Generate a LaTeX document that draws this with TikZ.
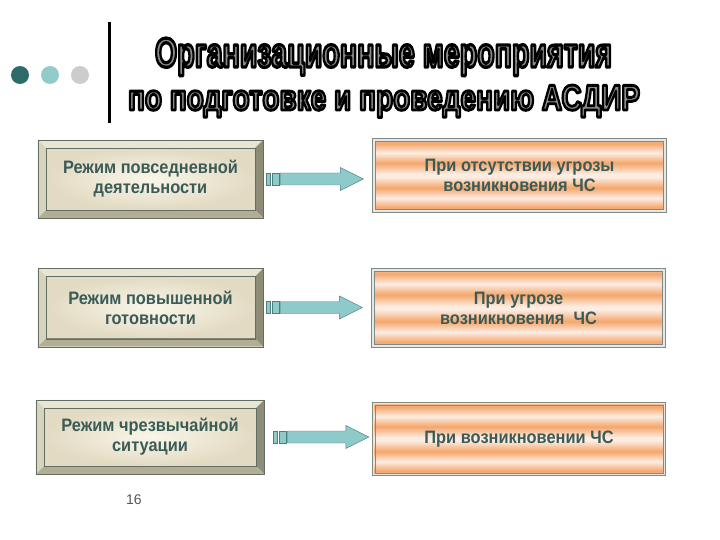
\documentclass[tikz,border=0pt]{standalone}
\usepackage{fontspec}
\setmainfont{Liberation Sans}
\newfontfamily\boxfont{Liberation Sans}[FakeStretch=0.91]
\usetikzlibrary{calc}

\definecolor{dotdark}{HTML}{2E6B6B}
\definecolor{dotlight}{HTML}{93CBCB}
\definecolor{dotgray}{HTML}{CCCCCC}
\definecolor{textcol}{HTML}{3B5B57}
\definecolor{facein}{HTML}{F9F6EA}
\definecolor{faceout}{HTML}{E2DAC2}
\definecolor{beveltop}{HTML}{E9E5D2}
\definecolor{bevelleft}{HTML}{D9D3BC}
\definecolor{bevelright}{HTML}{8E8B76}
\definecolor{bevelbottom}{HTML}{B3AD94}
\definecolor{bevelline}{HTML}{5F6F66}
\definecolor{arrowfill}{HTML}{8FCACA}
\definecolor{arrowline}{HTML}{4D7F7D}
\definecolor{stripeorange}{HTML}{F5A66C}
\definecolor{stripelight}{HTML}{FCEDE3}
\definecolor{stripemid}{HTML}{F8C9A4}
\definecolor{caseline}{HTML}{7E8A82}
\definecolor{pagegray}{HTML}{555555}
\definecolor{titlegray}{HTML}{8C8C8C}

\pgfdeclareverticalshading{stripes}{100bp}{color(0bp)=(stripemid); color(25bp)=(stripemid);
  color(28bp)=(stripeorange); color(34.5bp)=(stripelight); color(41.5bp)=(stripeorange);
  color(49bp)=(stripelight); color(51bp)=(stripelight); color(58.5bp)=(stripeorange);
  color(65.5bp)=(stripelight); color(72bp)=(stripeorange); color(75bp)=(stripemid);
  color(100bp)=(stripemid)}

\tikzset{
  boxtext/.style={font=\boxfont\fontsize{18}{20}\selectfont\bfseries, text=textcol, align=center},
  modebox/.style={boxtext, inner color=facein, outer color=faceout, draw=bevelline,
    minimum width=209pt, minimum height=62pt, inner sep=0pt},
  casebox/.style={boxtext, shading=stripes, draw=caseline, line width=1.2pt,
    minimum width=293pt, minimum height=73pt, inner sep=0pt},
  titletext/.style={anchor=base, inner sep=0pt, text=titlegray,
    font=\bfseries},
  pagenum/.style={font=\fontsize{14}{16}\selectfont, text=pagegray}
}

\newcommand{\outlined}[1]{\special{pdf:literal direct 2 Tr 0.8 w 1 j 0 G}#1\special{pdf:literal direct 0 Tr}}

\newcommand{\bevel}[1]{%
  \fill[beveltop] (#1.north west) -- ($(#1.north west)+(-8,-8)$) -- ($(#1.north east)+(8,-8)$) -- (#1.north east) -- cycle;
  \fill[bevelleft] (#1.north west) -- ($(#1.north west)+(-8,-8)$) -- ($(#1.south west)+(-8,8)$) -- (#1.south west) -- cycle;
  \fill[bevelright] (#1.north east) -- ($(#1.north east)+(8,-8)$) -- ($(#1.south east)+(8,8)$) -- (#1.south east) -- cycle;
  \fill[bevelbottom] (#1.south west) -- ($(#1.south west)+(-8,8)$) -- ($(#1.south east)+(8,8)$) -- (#1.south east) -- cycle;
  \draw[bevelline] ($(#1.north west)+(-8,-8)$) rectangle ($(#1.south east)+(8,8)$);
  \draw[bevelline] (#1.north west) rectangle (#1.south east);
}

% inner frame of the striped boxes
\newcommand{\inset}[1]{%
  \draw[white!80!caseline, line width=1.5pt] ($(#1.north west)+(1.8,1.8)$) rectangle ($(#1.south east)+(-1.8,-1.8)$);
  \draw[caseline, line width=0.8pt] ($(#1.north west)+(3.2,3.2)$) rectangle ($(#1.south east)+(-3.2,-3.2)$);
}

% #3 shifts the arrow to the right
\newcommand{\blockarrow}[3]{%
  \path ($(#1.east)+(11+#3,0)$) coordinate (s);
  \path ($(#2.west |- s)+(-9+#3,0)$) coordinate (t);
  \filldraw[fill=arrowfill, draw=arrowline] ($(s)+(0,-6)$) rectangle ($(s)+(4,6)$);
  \filldraw[fill=arrowfill, draw=arrowline] ($(s)+(6,-6)$) rectangle ($(s)+(13,6)$);
  \filldraw[fill=arrowfill, draw=arrowline] ($(s)+(14,-6)$) -- ($(t)+(-23,-6)$) -- ($(t)+(-23,-11.5)$)
    -- (t) -- ($(t)+(-23,11.5)$) -- ($(t)+(-23,6)$) -- ($(s)+(14,6)$) -- cycle;
}

\begin{document}
\begin{tikzpicture}[x=1pt, y=-1pt]
\useasboundingbox (0,0) rectangle (720,540);

\fill[dotdark] (20,75) circle (9);
\fill[dotlight] (50,75) circle (9);
\fill[dotgray] (80,75) circle (9);
\draw[line width=3pt] (109,22) -- (109,123);

\node[titletext] (title1) at (383.5,67) {\resizebox{457pt}{29pt}{\outlined{Организационные мероприятия}}};
\node[titletext] (title2) at (384,110) {\resizebox{512pt}{25pt}{\outlined{по подготовке и проведению АСДИР}}};

\node[modebox] (l1) at (150.5,179) {Режим повседневной\\деятельности};
\bevel{l1}
\node[modebox] (l2) at (150.5,307.5) {Режим повышенной\\готовности};
\bevel{l2}
\node[modebox, minimum width=212pt, minimum height=58pt] (l3) at (150,437) {Режим чрезвычайной\\ситуации};
\bevel{l3}

\node[casebox] (r1) at (519.5,175.5) {При отсутствии угрозы\\возникновения ЧС};
\inset{r1}
\node[casebox, minimum height=78pt] (r2) at (518.5,308) {При угрозе\\возникновения\ \ ЧС};
\inset{r2}
\node[casebox] (r3) at (519,439) {При возникновении ЧС};
\inset{r3}

\blockarrow{l1}{r1}{0}
\blockarrow{l2}{r2}{0}
\blockarrow{l3}{r3}{6}

\node[pagenum] (page) at (134,500) {16};

\end{tikzpicture}
\end{document}
